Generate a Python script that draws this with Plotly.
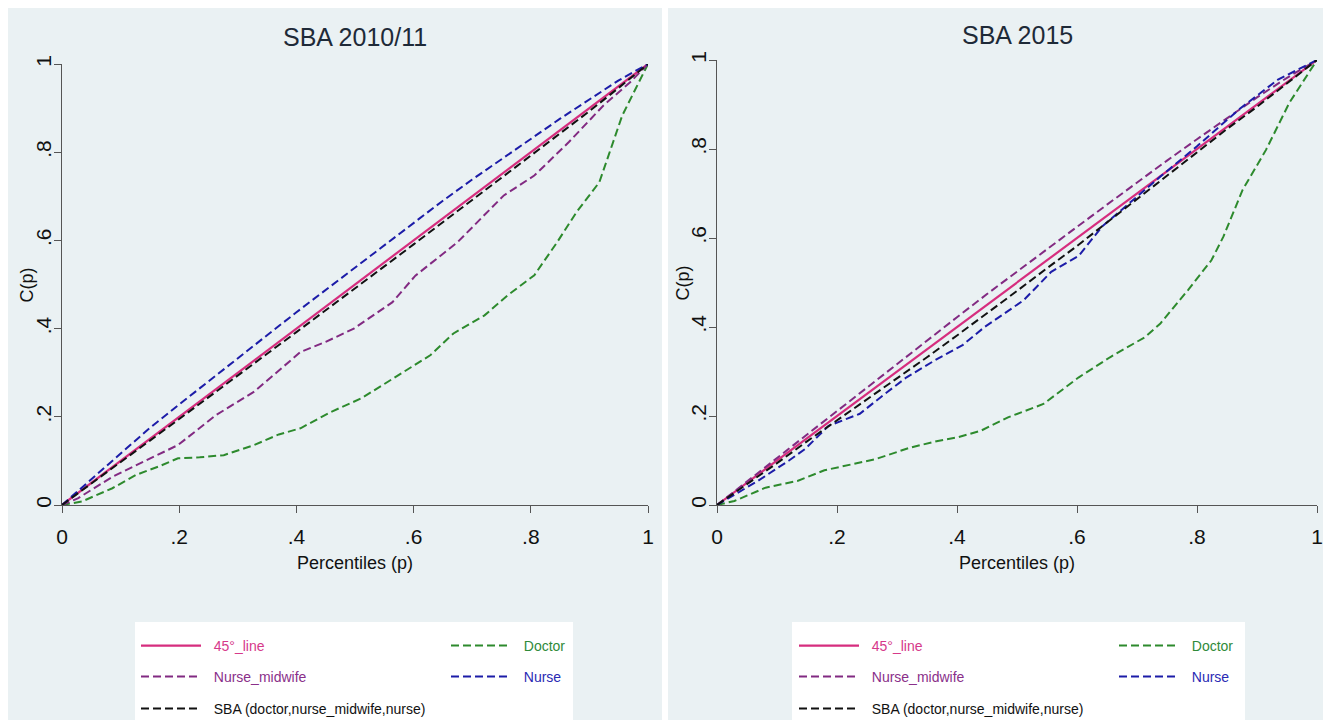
import plotly.graph_objects as go

# ---------------- data ----------------
# 45 degree reference line
p_line = [0, 1]
c_line = [0, 1]

# SBA 2010/11
p_doc_10 = [0, .034, .086, .126, .17, .198, .235, .276, .328, .37, .407, .459, .511, .537, .58, .629, .668, .721, .76, .806, .845, .878, .917, .956, 1]
c_doc_10 = [0, .008, .038, .068, .09, .106, .108, .113, .136, .16, .174, .211, .242, .264, .30, .34, .389, .43, .475, .521, .596, .664, .732, .883, 1]
p_nm_10 = [0, .027, .086, .152, .198, .263, .328, .407, .45, .498, .564, .603, .675, .754, .806, .865, .924, .969, 1]
c_nm_10 = [0, .015, .064, .106, .136, .204, .257, .347, .37, .40, .46, .52, .596, .702, .747, .823, .906, .958, 1]
p_nur_10 = [0, .05, .1, .15, .2, .25, .3, .35, .4, .45, .5, .55, .6, .65, .7, .75, .8, .85, .9, .95, 1]
c_nur_10 = [0, .058, .118, .175, .228, .281, .333, .385, .437, .488, .538, .59, .64, .69, .738, .785, .83, .876, .92, .963, 1]
p_sba_10 = [0, .05, .1, .15, .2, .25, .3, .35, .4, .45, .5, .55, .6, .65, .7, .75, .8, .85, .9, .95, 1]
c_sba_10 = [0, .048, .097, .146, .195, .245, .294, .343, .392, .441, .49, .541, .591, .641, .691, .741, .791, .842, .893, .946, 1]

# SBA 2015
p_doc_15 = [0, .029, .081, .134, .179, .225, .264, .322, .368, .401, .44, .485, .544, .603, .655, .713, .739, .785, .824, .844, .876, .915, .954, 1]
c_doc_15 = [0, .009, .039, .054, .078, .092, .103, .129, .144, .152, .167, .197, .227, .287, .332, .377, .408, .483, .55, .603, .708, .798, .904, 1]
p_nm_15 = [0, .05, .1, .15, .2, .25, .3, .35, .4, .45, .5, .55, .6, .65, .7, .75, .8, .85, .9, .95, 1]
c_nm_15 = [0, .053, .105, .158, .212, .265, .318, .37, .422, .474, .525, .575, .625, .675, .725, .774, .822, .87, .916, .96, 1]
p_nur_15 = [0, .068, .12, .147, .186, .238, .28, .316, .368, .41, .446, .511, .557, .603, .642, .681, .739, .8, .87, .935, 1]
c_nur_15 = [0, .054, .10, .126, .178, .205, .25, .287, .329, .36, .40, .46, .524, .56, .626, .671, .738, .806, .889, .956, 1]
p_sba_15 = [0, .05, .1, .15, .2, .25, .3, .35, .4, .45, .5, .55, .6, .65, .7, .75, .8, .85, .9, .95, 1]
c_sba_15 = [0, .046, .094, .143, .19, .236, .283, .332, .381, .43, .481, .532, .582, .635, .688, .741, .793, .845, .895, .947, 1]

tick_vals = [0, .2, .4, .6, .8, 1]
tick_text = ["0", ".2", ".4", ".6", ".8", "1"]
titles = ["SBA 2010/11", "SBA 2015"]
x_title = "Percentiles (p)"
y_title = "C(p)"
series_names = ["45°_line", "Doctor", "Nurse_midwife", "Nurse", "SBA (doctor,nurse_midwife,nurse)"]

# ---------------- style ----------------
W, H = 1331, 720
OFF = 8  # page margin of the html body
FONT = "Liberation Sans, Arial, sans-serif"
BG = "#eaf1f3"
PINK, GREEN, PURPLE, BLUE, BLACK = "#d62d7e", "#2d8a2d", "#822a82", "#1c1ca8", "#111111"
TXT = {PINK: "#d6398a", GREEN: "#2f8a3a", PURPLE: "#8a2f8a", BLUE: "#2a2ab4", BLACK: "#111111"}
DASH = "8px,4px"


def px_x(v):
    return (v - OFF) / W


def px_y(v):
    return 1 - (v - OFF) / H


panels = [
    dict(xd=(62, 648), yd=(64, 505), region=(6, 6, 662, 740), legbox=(135, 622, 573, 740),
         cols=(141, 451), rows=(646, 677, 709), title_x=355, title_y=37, ytitle_x=26,
         data=[(p_line, c_line), (p_doc_10, c_doc_10), (p_nm_10, c_nm_10), (p_nur_10, c_nur_10), (p_sba_10, c_sba_10)]),
    dict(xd=(717, 1317), yd=(60, 505), region=(668, 6, 1345, 740), legbox=(792, 622, 1245, 740),
         cols=(799, 1119), rows=(646, 677, 709), title_x=1017, title_y=35, ytitle_x=682,
         data=[(p_line, c_line), (p_doc_15, c_doc_15), (p_nm_15, c_nm_15), (p_nur_15, c_nur_15), (p_sba_15, c_sba_15)]),
]
colors = [PINK, GREEN, PURPLE, BLUE, BLACK]
dashes = ["solid", DASH, DASH, DASH, DASH]
item_pos = [(0, 0), (1, 0), (0, 1), (1, 1), (0, 2)]  # (column, row) of each legend entry

fig = go.Figure()
shapes = []
annotations = []
layout = {}

for i, pn in enumerate(panels):
    ax = "" if i == 0 else str(i + 1)
    x0, y0, x1, y1 = pn["region"]
    shapes.append(dict(type="rect", xref="paper", yref="paper", x0=px_x(x0), x1=px_x(x1),
                       y0=px_y(y1), y1=px_y(y0), fillcolor=BG, line_width=0, layer="below"))
    lx0, ly0, lx1, ly1 = pn["legbox"]
    shapes.append(dict(type="rect", xref="paper", yref="paper", x0=px_x(lx0), x1=px_x(lx1),
                       y0=px_y(ly1), y1=px_y(ly0), fillcolor="white", line_width=0, layer="below"))
    layout["xaxis" + ax] = dict(
        domain=[px_x(pn["xd"][0]), px_x(pn["xd"][1])], range=[0, 1], anchor="y" + ax,
        tickvals=tick_vals, ticktext=tick_text, ticks="outside", ticklen=7, tickwidth=1.3,
        tickcolor="#555", showline=True, linecolor="#555", linewidth=1.3, showgrid=False,
        zeroline=False, tickfont=dict(family=FONT, size=21, color="#111"), ticklabelstandoff=6,
        title=dict(text=x_title, font=dict(family=FONT, size=18, color="#111"), standoff=9),
    )
    layout["yaxis" + ax] = dict(
        domain=[px_y(pn["yd"][1]), px_y(pn["yd"][0])], range=[0, 1], anchor="x" + ax,
        tickvals=tick_vals, ticktext=tick_text, ticks="outside", ticklen=7, tickwidth=1.3,
        tickcolor="#555", showline=True, linecolor="#555", linewidth=1.3, showgrid=True,
        gridcolor=BG, gridwidth=1.5, zeroline=False, tickangle=-90, ticklabelstandoff=-6,
        tickfont=dict(family=FONT, size=21, color="#111"),
    )
    annotations.append(dict(text=titles[i], xref="paper", yref="paper", x=px_x(pn["title_x"]),
                            y=px_y(pn["title_y"]), xanchor="center", yanchor="middle", showarrow=False,
                            font=dict(family=FONT, size=25, color="#1e2a38")))
    annotations.append(dict(text=y_title, xref="paper", yref="paper", x=px_x(pn["ytitle_x"]),
                            y=px_y((pn["yd"][0] + pn["yd"][1]) / 2 + 1), xanchor="center", yanchor="middle",
                            showarrow=False, textangle=-90,
                            font=dict(family=FONT, size=18, color="#111")))
    for k, (px, cy) in enumerate(pn["data"]):
        col, row = item_pos[k]
        idx = i * 5 + k
        lname = "legend" + ("" if idx == 0 else str(idx + 1))
        layout[lname] = dict(
            x=px_x(pn["cols"][col] - 5), y=px_y(pn["rows"][row]), xanchor="left", yanchor="middle",
            orientation="h", bgcolor="rgba(0,0,0,0)", borderwidth=0,
            font=dict(family=FONT, size=14), itemwidth=60,
        )
        fig.add_trace(go.Scatter(
            x=px, y=cy, mode="lines", xaxis="x" + ax, yaxis="y" + ax,
            line=dict(color=colors[k], width=2 if k else 2.2, dash=dashes[k]),
            name='<span style="color:%s">&nbsp;&nbsp;%s</span>' % (TXT[colors[k]], series_names[k]),
            legend=lname, showlegend=True,
        ))

fig.update_layout(
    width=W, height=H, margin=dict(l=0, r=0, t=0, b=0, autoexpand=False),
    paper_bgcolor="white", plot_bgcolor="white",
    shapes=shapes, annotations=annotations, **layout,
)
fig.write_html("out.html")
